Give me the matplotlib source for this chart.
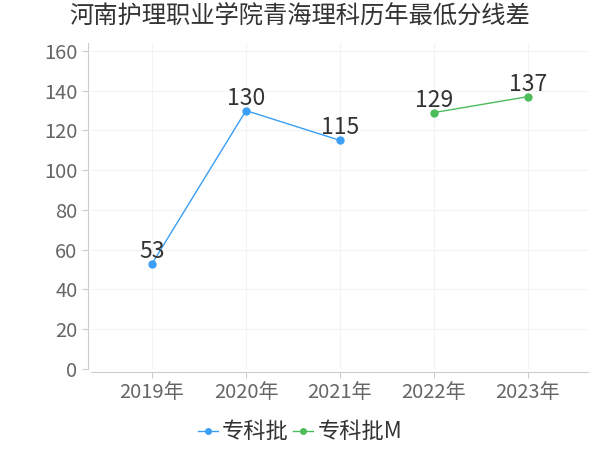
import matplotlib
matplotlib.use("Agg")
import matplotlib.pyplot as plt

plt.rcParams['font.family'] = ['Noto Sans CJK SC', 'DejaVu Sans']

years = ["2019年", "2020年", "2021年", "2022年", "2023年"]
zk_x = [0, 1, 2]
zk_vals = [53, 130, 115]
zkm_x = [3, 4]
zkm_vals = [129, 137]
y_ticks = [0, 20, 40, 60, 80, 100, 120, 140, 160]

blue = "#3a9ff5"
green = "#4dbd5c"

fig = plt.figure(figsize=(6, 4.5), dpi=100)
ax = fig.add_axes([91 / 600, 1 - 369 / 450, 497 / 600, 326 / 450])

ax.plot(zk_x, zk_vals, color=blue, lw=1, marker="o", ms=5, label="专科批")
ax.plot(zkm_x, zkm_vals, color=green, lw=1, marker="o", ms=5, label="专科批M")

for x, v in zip(zk_x + zkm_x, zk_vals + zkm_vals):
    ax.text(x, v + 0.5, str(v), ha="center", va="bottom", fontsize=16.5, color="#333333")

ax.set_xlim(-0.65, 4.64)
ax.set_ylim(0, 164)
ax.set_xticks(range(len(years)))
ax.set_xticklabels(years)
ax.set_yticks(y_ticks)
ax.tick_params(axis="both", colors="#cccccc", labelcolor="#666666", labelsize=14.5, length=4)
ax.grid(True, color="#f3f3f3", lw=0.8)
ax.set_axisbelow(True)
for s in ["top", "right"]:
    ax.spines[s].set_visible(False)
for s in ["left", "bottom"]:
    ax.spines[s].set_color("#cccccc")
    ax.spines[s].set_position(("outward", 2.2))

fig.suptitle("河南护理职业学院青海理科历年最低分线差", x=0.5, y=0.995, fontsize=17.5, color="#333333")
fig.legend(loc="center", bbox_to_anchor=(0.5, 18 / 450), ncol=2, frameon=False,
           fontsize=16, handlelength=0.9, handletextpad=0.2, columnspacing=0.2,
           labelcolor="#333333", markerscale=0.8)

fig.savefig("out.png", dpi=100)
